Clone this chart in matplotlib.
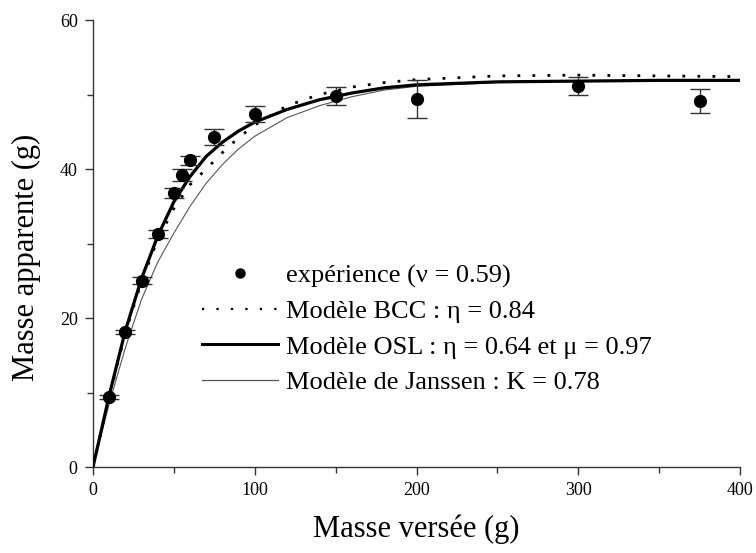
import matplotlib
matplotlib.use("Agg")
import matplotlib.pyplot as plt
from matplotlib.lines import Line2D
from matplotlib.ticker import MultipleLocator

plt.rcParams['font.family'] = ['Liberation Serif', 'DejaVu Serif']

# Measured points: poured mass vs apparent mass, with error bars
exp_x = [10, 20, 30, 40, 50, 55, 60, 75, 100, 150, 200, 300, 375]
exp_y = [9.4, 18.1, 25.0, 31.3, 36.8, 39.2, 41.2, 44.3, 47.4, 49.8, 49.4, 51.1, 49.1]
exp_err = [0.3, 0.3, 0.5, 0.5, 0.7, 0.75, 0.6, 1.1, 1.1, 1.2, 2.5, 1.2, 1.6]

# Model curves sampled along the poured mass
model_x = [0, 10, 20, 30, 40, 50, 60, 70, 80, 90, 100, 120, 140, 160, 180, 200, 250, 300, 350, 400]
bcc_y = [0, 9.4, 18.0, 24.9, 30.5, 34.7, 37.9, 40.0, 42.2, 44.2, 45.9, 48.5, 50.0, 51.0, 51.6, 52.0, 52.5, 52.6, 52.5, 52.4]
osl_y = [0, 9.6, 18.3, 25.3, 31.0, 35.6, 39.0, 41.7, 43.6, 45.1, 46.3, 48.0, 49.3, 50.2, 50.9, 51.3, 51.7, 51.8, 51.9, 51.9]
janssen_y = [0, 8.5, 16.0, 22.5, 27.5, 31.4, 35.0, 38.1, 40.6, 42.7, 44.4, 46.9, 48.5, 49.7, 50.6, 51.1, 51.6, 51.8, 51.9, 51.9]

labels = [
    "expérience (ν = 0.59)",
    "Modèle BCC : η = 0.84",
    "Modèle OSL : η = 0.64 et μ = 0.97",
    "Modèle de Janssen : K = 0.78",
]

fig = plt.figure(figsize=(7.56, 5.53), dpi=100)
ax = fig.add_axes([0.123, 0.1555, 0.856, 0.8083])

ax.plot(model_x, janssen_y, color='#555555', lw=0.8, zorder=2)
ax.plot(model_x, bcc_y, color='black', lw=2.0, linestyle=(0, (1, 4.4)), zorder=3)
ax.plot(model_x, osl_y, color='black', lw=2.3, zorder=4)
ax.errorbar(exp_x, exp_y, yerr=exp_err, fmt='o', color='black', ms=8.5,
            ecolor='#333333', elinewidth=1.0, capsize=7, capthick=1.0, zorder=5)

ax.set_xlim(0, 400)
ax.set_ylim(0, 60)
ax.xaxis.set_major_locator(MultipleLocator(100))
ax.xaxis.set_minor_locator(MultipleLocator(50))
ax.yaxis.set_major_locator(MultipleLocator(20))
ax.yaxis.set_minor_locator(MultipleLocator(10))
for side in ('top', 'right'):
    ax.spines[side].set_visible(False)
for side in ('left', 'bottom'):
    ax.spines[side].set_color('#333333')
    ax.spines[side].set_linewidth(1.0)
ax.tick_params(which='major', direction='out', length=6, width=1.0, color='#333333',
               labelsize=13, pad=5)
ax.tick_params(which='minor', direction='out', length=4, width=1.0, color='#333333')

ax.set_xlabel("Masse versée (g)", fontsize=22, labelpad=11)
ax.set_ylabel("Masse apparente (g)", fontsize=22)
ax.yaxis.set_label_coords(-0.08, 0.47)

handles = [
    Line2D([], [], color='black', marker='o', linestyle='none', ms=6.5),
    Line2D([], [], color='black', lw=1.6, linestyle=(0, (1, 5.5))),
    Line2D([], [], color='black', lw=2.2),
    Line2D([], [], color='#555555', lw=0.9),
]
leg = ax.legend(handles, labels, loc='upper left', bbox_to_anchor=(202 / 756, 1 - 264 / 553),
                bbox_transform=fig.transFigure, frameon=False, fontsize=19,
                handlelength=2.88, handletextpad=0.3, labelspacing=0.45, borderpad=0,
                borderaxespad=0)

fig.savefig("out.png", dpi=100)
